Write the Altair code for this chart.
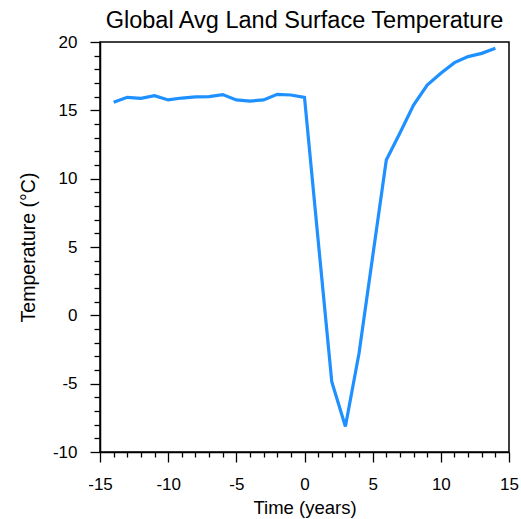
import altair as alt
import pandas as pd

years = list(range(-14, 15))
temps = [15.59, 15.95, 15.88, 16.07, 15.76, 15.90, 15.98, 16.0, 16.15, 15.76,
         15.68, 15.76, 16.17, 16.12, 15.95, 5.5, -4.85, -8.14, -2.77, 4.3,
         11.37, 13.34, 15.39, 16.85, 17.71, 18.49, 18.93, 19.17, 19.54]

x_ticks = list(range(-15, 16))
y_ticks = list(range(-10, 21))

df = pd.DataFrame({"t": years, "temp": temps})

FONT = "Liberation Sans"

def axis(title, values, pad, tpad, tsize, minor):
    return alt.Axis(
        title=title,
        values=values,
        grid=False,
        domainColor="black",
        domainWidth=1.5,
        tickColor="black",
        tickWidth=1.3,
        tickSize={"condition": {"test": "datum.value % 5 === 0", "value": 10}, "value": minor},
        labelExpr="datum.value % 5 === 0 ? ('' + datum.value) : ''",
        labelOverlap=False,
        labelFlush=False,
        labelFont=FONT,
        labelFontSize=17,
        labelColor="black",
        labelPadding=pad,
        titleFont=FONT,
        titleFontSize=tsize,
        titleFontWeight="normal",
        titleColor="black",
        titlePadding=tpad,
    )

chart = alt.Chart(df).mark_line(color="#1E90FF", strokeWidth=3.2).encode(
    x=alt.X("t:Q", scale=alt.Scale(domain=[-15, 15], nice=False, zero=False),
            axis=axis("Time (years)", x_ticks, 14, 6, 18.5, 5)),
    y=alt.Y("temp:Q", scale=alt.Scale(domain=[-10, 20], nice=False, zero=False),
            axis=axis("Temperature (°C)", y_ticks, 13, 14, 19.5, 6)),
).properties(
    width=409,
    height=410,
    title=alt.TitleParams(
        "Global Avg Land Surface Temperature",
        font=FONT, fontSize=23.5, fontWeight="normal", color="black",
        anchor="middle", offset=1,
    ),
    autosize=alt.AutoSizeParams(type="none"),
    padding={"left": 100, "top": 42, "right": 12, "bottom": 67},
).configure_view(stroke="black", strokeWidth=1.5)

chart.save("out.html", embed_options={"renderer": "svg", "actions": False})
